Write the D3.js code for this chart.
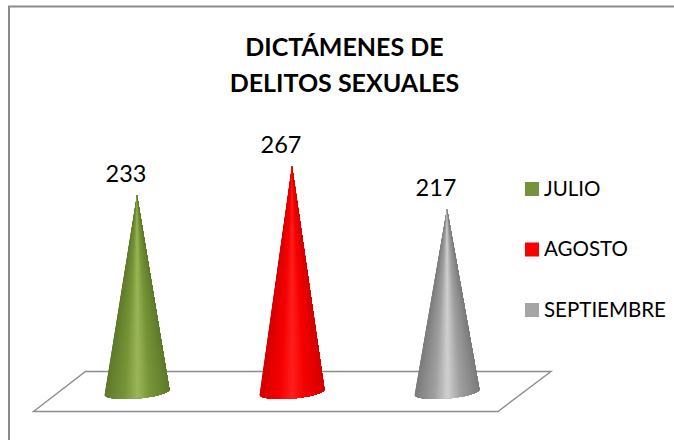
<!DOCTYPE html>
<html>
<head>
<meta charset="utf-8">
<script src="https://d3js.org/d3.v7.min.js"></script>
<style>
  body { margin: 0; background: #fff; }
  text { font-family: Lato, "Open Sans", sans-serif; fill: #000; }
</style>
</head>
<body>
<script>
const months = ['JULIO', 'AGOSTO', 'SEPTIEMBRE'];
const values = [233, 267, 217];
const titleLines = ['DICTÁMENES DE', 'DELITOS SEXUALES'];
const legendColors = ['#76923c', '#ff0000', '#a5a5a5'];
// edge, mid and highlight tones of each cone
const shades = [
  ['#5f7a2b', '#779438', '#9ab658'],
  ['#d40000', '#f60000', '#ff1e1e'],
  ['#7b7b7b', '#a0a0a0', '#d0d0d0']
];

const width = 674, height = 440;

const svg = d3.select('body').append('svg')
  .attr('width', width)
  .attr('height', height)
  .style('display', 'block');

// Chart frame, open on the right and at the bottom
svg.append('path')
  .attr('d', 'M9,440V6.5H674')
  .attr('fill', 'none')
  .attr('stroke', '#8c8c8c')
  .attr('stroke-width', 2);

// Title
svg.append('g').selectAll('text')
  .data(titleLines)
  .enter().append('text')
  .attr('x', 344.5)
  .attr('y', (d, i) => 55.5 + i * 36.5)
  .attr('text-anchor', 'middle')
  .attr('font-size', 25)
  .attr('font-weight', 700)
  .text(d => d);

const x = d3.scalePoint().domain(months).range([137, 447]);
const y = d3.scaleLinear().domain([0, 267]).range([393.5, 166]);
const baseRx = 32.5, baseRy = 6.5, tilt = -5 * Math.PI / 180;

// Floor
svg.append('path')
  .attr('d', 'M33.5,411.5L85.5,371.5H551L498,411.5Z')
  .attr('fill', '#fff')
  .attr('stroke', '#8c8c8c')
  .attr('stroke-width', 1.4);

// Cones: wedges from the tip, each painted over the last, so the shading
// converges like a real cone and no seams show between them
const steps = d3.range(60);
const cones = svg.append('g').selectAll('g')
  .data(months)
  .enter().append('g');

cones.each(function(d, i) {
  const cx = x(d), cy = y(0) - 1.5, tip = y(values[i]);
  const tone = d3.scaleLinear()
    .domain([-1, -0.4, 0, 0.4, 1])
    .range([shades[i][0], shades[i][1], shades[i][2], shades[i][1], shades[i][0]]);
  const angle = k => Math.PI - k / steps.length * Math.PI;
  const rim = k => {
    const ex = baseRx * Math.cos(angle(k)), ey = baseRy * Math.sin(angle(k));
    return [cx + ex * Math.cos(tilt) - ey * Math.sin(tilt),
            cy + ex * Math.sin(tilt) + ey * Math.cos(tilt)];
  };
  d3.select(this).selectAll('path')
    .data(steps)
    .enter().append('path')
    .attr('d', k => `M${cx},${tip}L${d3.range(k, steps.length + 1).map(rim).join('L')}Z`)
    .attr('fill', k => tone(Math.cos(angle(k + 0.5))));
});

// Value labels
svg.append('g').selectAll('text')
  .data(months)
  .enter().append('text')
  .attr('x', d => x(d) - 11)
  .attr('y', (d, i) => y(values[i]) - 13)
  .attr('text-anchor', 'middle')
  .attr('font-size', 23.5)
  .text((d, i) => values[i]);

// Legend
const legend = svg.append('g').selectAll('g')
  .data(months)
  .enter().append('g')
  .attr('transform', (d, i) => `translate(525,${182 + i * 60.5})`);
legend.append('rect')
  .attr('width', 14)
  .attr('height', 14)
  .attr('fill', (d, i) => legendColors[i]);
legend.append('text')
  .attr('x', 19)
  .attr('y', 13.5)
  .attr('font-size', 20.5)
  .text(d => d);
</script>
</body>
</html>
